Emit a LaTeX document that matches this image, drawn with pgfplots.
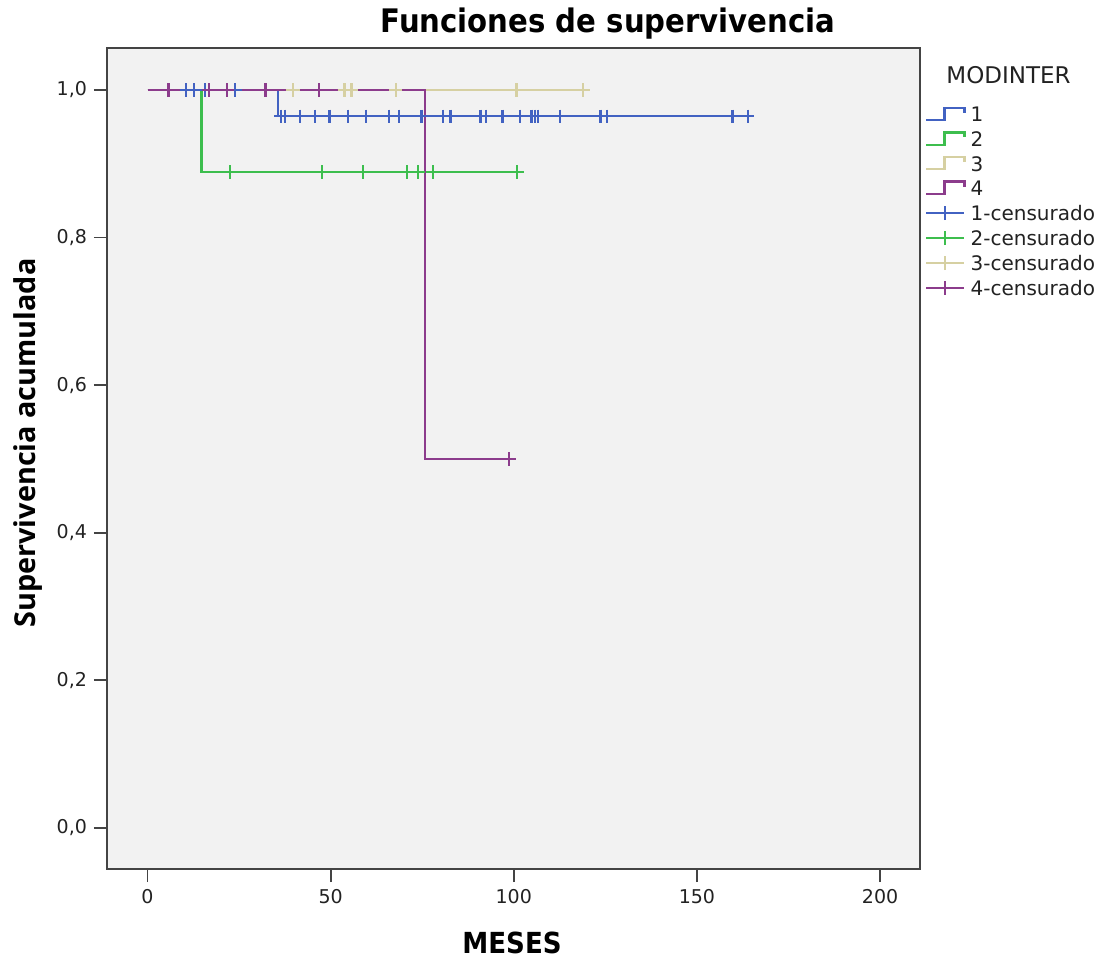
\documentclass[border=0pt]{standalone}
\usepackage{fontspec}
\setmainfont{DejaVu Sans}
\newfontfamily\condfont{DejaVu Sans Condensed}
\newfontfamily\opensans{Open Sans}
\usepackage{pgfplots}
\pgfplotsset{compat=1.18}
\definecolor{cblue}{HTML}{4262C2}
\definecolor{cgreen}{HTML}{3DBE4E}
\definecolor{cbeige}{HTML}{D6D0A2}
\definecolor{cpurple}{HTML}{8C3C8C}
\definecolor{bgc}{HTML}{F2F2F2}
\definecolor{axc}{HTML}{444444}
\definecolor{txtc}{HTML}{222222}
\pgfplotsset{
  kmline/.style={legend image code/.code={\draw[##1, line width=1.15pt] (0pt,-1.6pt) -- (9.2pt,-1.6pt) -- (9.2pt,4.5pt) -- (19.2pt,4.5pt) -- (19.2pt,2pt);}},
  kmcens/.style={legend image code/.code={\draw[##1, line width=1.15pt] (0pt,1.2pt) -- (19.2pt,1.2pt); \draw[##1, line width=1.15pt] (9.6pt,-2.3pt) -- (9.6pt,4.7pt);}},
  kml/.style={line width=1.15pt, forget plot},
  kmc/.style={only marks, mark=+, mark size=3.3pt, mark options={line width=1.15pt}, forget plot},
}
\begin{document}
\begin{tikzpicture}
\useasboundingbox (-53.5pt,-45pt) rectangle (501pt,434.5pt);
\begin{axis}[
  at={(0,0)}, anchor=south west,
  scale only axis, width=406.5pt, height=410.5pt,
  xmin=-11.06, xmax=210.9, ymin=-0.0556, ymax=1.0569,
  axis background/.style={fill=bgc},
  axis line style={draw=axc, line width=0.9pt},
  xtick={0,50,100,150,200}, xticklabels={0,50,100,150,200},
  ytick={0,0.2,0.4,0.6,0.8,1},
  yticklabels={{0,0},{0,2},{0,4},{0,6},{0,8},{1,0}},
  tick align=outside, major tick length=6.5pt,
  xtick pos=bottom, ytick pos=left,
  tick style={draw=axc, line width=0.9pt},
  ticklabel style={font=\fontsize{9.5}{11}\selectfont, text=txtc},
  legend style={at={(1.006,0.9284)}, anchor=north west, draw=none, fill=none,
    inner sep=0pt, outer sep=0pt, row sep=2.2pt, column sep=2.5pt,
    font=\fontsize{10}{12}\selectfont, text=txtc,
    nodes={inner sep=0pt, text height=7.5pt, text depth=2.5pt}},
  legend cell align=left,
  clip=false,
]
% step lines
\addplot[kml, cblue] coordinates {(0,1) (35.6,1) (35.6,0.9643) (163.9,0.9643)};
\addplot[kml, cgreen] coordinates {(0,1) (14.7,1) (14.7,0.8889) (100.9,0.8889)};
\addplot[kml, cbeige] coordinates {(0,1) (118.9,1)};
\addplot[kml, cpurple] coordinates {(0,1) (75.8,1) (75.8,0.5) (98.7,0.5)};
% censored
\addplot[kmc, cblue] coordinates {
 (10.6,1) (12.7,1) (15.6,1) (23.9,1)
 (36.4,0.9643) (37.6,0.9643) (41.7,0.9643) (45.8,0.9643) (49.7,0.9643)
 (54.7,0.9643) (59.6,0.9643) (65.9,0.9643) (68.6,0.9643) (74.8,0.9643)
 (80.7,0.9643) (82.7,0.9643) (90.9,0.9643) (92.5,0.9643) (96.9,0.9643)
 (101.6,0.9643) (104.8,0.9643) (105.7,0.9643) (106.6,0.9643) (112.7,0.9643)
 (123.7,0.9643) (125.5,0.9643) (159.7,0.9643) (163.9,0.9643)};
\addplot[kmc, cgreen] coordinates {
 (22.6,0.8889) (47.7,0.8889) (58.8,0.8889) (70.8,0.8889) (73.9,0.8889)
 (77.9,0.8889) (100.9,0.8889)};
\addplot[kmc, cbeige] coordinates {
 (39.7,1) (53.8,1) (55.7,1) (67.8,1) (100.7,1) (118.9,1)};
\addplot[kmc, cpurple] coordinates {
 (5.7,1) (16.7,1) (21.7,1) (32.2,1) (46.8,1) (98.7,0.5)};
% legend
\addlegendimage{kmline, cblue}\addlegendentry{1}
\addlegendimage{kmline, cgreen}\addlegendentry{2}
\addlegendimage{kmline, cbeige}\addlegendentry{3}
\addlegendimage{kmline, cpurple}\addlegendentry{4}
\addlegendimage{kmcens, cblue}\addlegendentry{1-censurado}
\addlegendimage{kmcens, cgreen}\addlegendentry{2-censurado}
\addlegendimage{kmcens, cbeige}\addlegendentry{3-censurado}
\addlegendimage{kmcens, cpurple}\addlegendentry{4-censurado}
\node[anchor=west, font=\fontsize{11.5}{13}\selectfont, text=txtc, inner sep=0pt] at (axis description cs:1.032,0.967) {MODINTER};
\end{axis}
\node[anchor=base, font=\condfont\bfseries\fontsize{16.2}{18}\selectfont, text=black, inner sep=0pt] at (250.5pt,418pt) {Funciones de supervivencia};
\node[rotate=90, font=\opensans\bfseries\fontsize{14.4}{16}\selectfont, text=black, inner sep=0pt] at (-39.5pt,213pt) {Supervivencia acumulada};
\node[anchor=base, font=\condfont\bfseries\fontsize{14.5}{16}\selectfont, text=black, inner sep=0pt] at (202.5pt,-42pt) {MESES};
\end{tikzpicture}
\end{document}
